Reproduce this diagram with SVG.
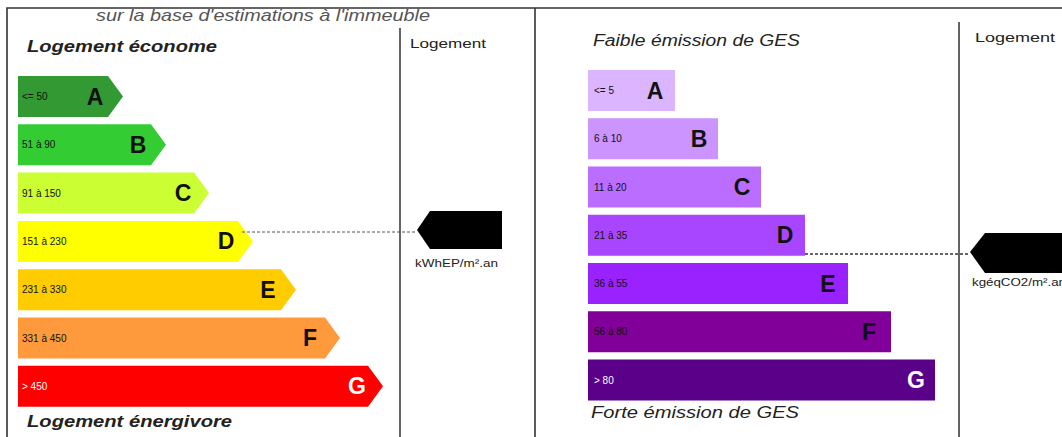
<svg xmlns="http://www.w3.org/2000/svg" width="1062" height="437" viewBox="0 0 1062 437">
<style>
text{font-family:"Liberation Sans",Arial,sans-serif}
.frame{stroke:#333;stroke-width:1.6;fill:none}
.div{stroke:#222;stroke-width:1.4;fill:none}
.lbl{font-size:10px;fill:#111}
.let{font-size:23px;font-weight:bold;fill:#111;text-anchor:middle}
.ttl{font-size:17px;font-style:italic;font-weight:bold;fill:#222}
.ttl2{font-size:16px;font-style:italic;fill:#222}
.hdr{font-size:13px;fill:#222}
.unit{font-size:10.5px;fill:#222}
.dash{stroke:#555;stroke-width:1;stroke-dasharray:3,2;fill:none}
</style>
<rect width="1062" height="437" fill="#fff"/>
<g id="frame">
<path class="frame" d="M7,437 V8 H1062"/>
<path class="frame" d="M535,8 V437"/>
<path class="div" d="M400,28 V437"/>
<path class="div" d="M959,22 V437"/>
</g>
<text x="96" y="21" textLength="334" lengthAdjust="spacingAndGlyphs" style="font-size:17px;font-style:italic;fill:#555">sur la base d'estimations à l'immeuble</text>
<text class="ttl" x="27" y="52" textLength="190" lengthAdjust="spacingAndGlyphs">Logement économe</text>
<text class="ttl" x="27" y="427" textLength="205" lengthAdjust="spacingAndGlyphs">Logement énergivore</text>
<text class="hdr" x="410" y="48" textLength="76" lengthAdjust="spacingAndGlyphs">Logement</text>
<text class="ttl2" x="593" y="46" textLength="207" lengthAdjust="spacingAndGlyphs">Faible émission de GES</text>
<text class="ttl2" x="591" y="418" textLength="208" lengthAdjust="spacingAndGlyphs">Forte émission de GES</text>
<text class="hdr" x="975" y="42" textLength="80" lengthAdjust="spacingAndGlyphs">Logement</text>
<g id="dpe-A"><polygon points="18,76 108,76 123,96.5 108,117 18,117" fill="#339933"/><text class="lbl" x="22" y="100">&lt;= 50</text><text class="let" x="95" y="104.5">A</text></g>
<g id="dpe-B"><polygon points="18,124.3 151,124.3 166,144.8 151,165.3 18,165.3" fill="#33cc33"/><text class="lbl" x="22" y="148.3">51 à 90</text><text class="let" x="138" y="152.8">B</text></g>
<g id="dpe-C"><polygon points="18,172.6 194,172.6 209,193.1 194,213.6 18,213.6" fill="#ccff33"/><text class="lbl" x="22" y="196.6">91 à 150</text><text class="let" x="183" y="201.1">C</text></g>
<g id="dpe-D"><polygon points="18,220.9 238,220.9 253,241.4 238,261.9 18,261.9" fill="#ffff00"/><text class="lbl" x="22" y="244.9">151 à 230</text><text class="let" x="226" y="249.4">D</text></g>
<g id="dpe-E"><polygon points="18,269.2 281,269.2 296,289.7 281,310.2 18,310.2" fill="#ffcc00"/><text class="lbl" x="22" y="293.2">231 à 330</text><text class="let" x="268" y="297.7">E</text></g>
<g id="dpe-F"><polygon points="18,317.5 325,317.5 340,338 325,358.5 18,358.5" fill="#ff9a3c"/><text class="lbl" x="22" y="341.5">331 à 450</text><text class="let" x="310" y="346">F</text></g>
<g id="dpe-G"><polygon points="18,365.8 368,365.8 383,386.3 368,406.8 18,406.8" fill="#ff0000"/><text class="lbl" x="22" y="389.8" style="fill:#fff">&gt; 450</text><text class="let" x="357" y="394.3" style="fill:#fff">G</text></g>
<g id="ges-A"><rect x="588" y="70" width="87" height="41" fill="#dbb5ff"/><text class="lbl" x="594" y="94">&lt;= 5</text><text class="let" x="655" y="98.5">A</text></g>
<g id="ges-B"><rect x="588" y="118.25" width="130" height="41" fill="#cb94ff"/><text class="lbl" x="594" y="142.25">6 à 10</text><text class="let" x="699" y="146.75">B</text></g>
<g id="ges-C"><rect x="588" y="166.5" width="173" height="41" fill="#bb6dff"/><text class="lbl" x="594" y="190.5">11 à 20</text><text class="let" x="742" y="195">C</text></g>
<g id="ges-D"><rect x="588" y="214.75" width="217" height="41" fill="#a846ff"/><text class="lbl" x="594" y="238.75">21 à 35</text><text class="let" x="785" y="243.25">D</text></g>
<g id="ges-E"><rect x="588" y="263" width="260" height="41" fill="#9a22ff"/><text class="lbl" x="594" y="287">36 à 55</text><text class="let" x="828" y="291.5">E</text></g>
<g id="ges-F"><rect x="588" y="311.25" width="303" height="41" fill="#82009a"/><text class="lbl" x="594" y="335.25">56 à 80</text><text class="let" x="869" y="339.75">F</text></g>
<g id="ges-G"><rect x="588" y="359.5" width="347" height="41" fill="#5a0089"/><text class="lbl" x="594" y="383.5" style="fill:#fff">&gt; 80</text><text class="let" x="916" y="388" style="fill:#fff">G</text></g>
<g id="pointer-dpe"><polygon points="417,230 430,211 502,211 502,249 430,249" fill="#000"/><text class="unit" x="415" y="267" textLength="83" lengthAdjust="spacingAndGlyphs">kWhEP/m².an</text></g>
<g id="pointer-ges"><polygon points="970,252 985,233 1062,233 1062,273 985,273" fill="#000"/><text class="unit" x="972" y="286" textLength="94" lengthAdjust="spacingAndGlyphs">kgéqCO2/m².an</text></g>
<g id="connectors">
<path class="dash" d="M242,232 H417"/>
<path class="dash" d="M805,254 H970" style="stroke:#333;stroke-width:1.4"/>
</g>
</svg>
